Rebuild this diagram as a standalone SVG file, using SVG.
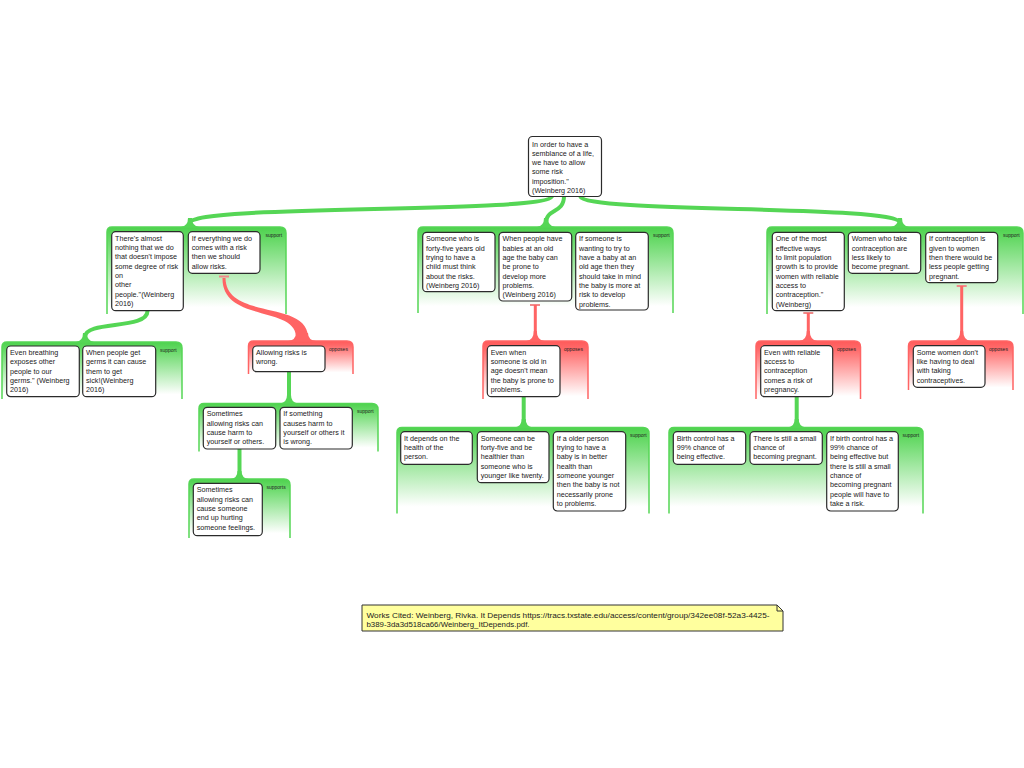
<svg xmlns="http://www.w3.org/2000/svg" width="1024" height="768" viewBox="0 0 1024 768">
<defs>
<linearGradient id="gg" x1="0" y1="0" x2="0" y2="1">
<stop offset="0" stop-color="#4ed24e"/>
<stop offset="0.12" stop-color="#62d862"/>
<stop offset="0.92" stop-color="#ffffff"/>
</linearGradient>
<linearGradient id="rg" x1="0" y1="0" x2="0" y2="1">
<stop offset="0" stop-color="#ff5a5a"/>
<stop offset="0.15" stop-color="#ff6b6b"/>
<stop offset="0.95" stop-color="#ffffff"/>
</linearGradient>
<style>
.box{fill:#fff;stroke:#2b2b2b;stroke-width:1.2}
.t{font-family:"Liberation Sans",Arial,sans-serif;font-size:7.2px;fill:#1a1a1a}
.lbl{font-family:"Liberation Sans",Arial,sans-serif;font-size:5px;fill:#222}
.gs{fill:url(#gg);stroke:#55d655;stroke-width:1.5}
.rs{fill:url(#rg);stroke:#ff6464;stroke-width:1.5}
.gc{fill:none;stroke:#55d655;stroke-width:4}
.rc{fill:none;stroke:#ff6464;stroke-width:3}
.gf{fill:#55d655}
.rf{fill:#ff6464}
.tm{stroke:#f08a8a;stroke-width:2}
.note{fill:#ffff9e;stroke:#333;stroke-width:1}
.nt{font-family:"Liberation Sans",Arial,sans-serif;font-size:7px;fill:#222}
</style>
</defs>

<g id="reason-left">
<path class="gs" d="M107,314 V232 Q107,227 112,227 H280 Q286,227 286,233 V314"/>
<text class="lbl" x="265.5" y="237">support</text>
</g>
<g id="reason-middle">
<path class="gs" d="M418,313 V232 Q418,227 423,227 H667 Q673,227 673,233 V313"/>
<text class="lbl" x="653" y="237">support</text>
</g>
<g id="reason-right">
<path class="gs" d="M767,314 V232 Q767,227 772,227 H1017 Q1023,227 1023,233 V314"/>
<text class="lbl" x="1003" y="237">support</text>
</g>
<g id="reason-breathing">
<path class="gs" d="M2,399 V347 Q2,342 7,342 H176 Q182,342 182,348 V399"/>
<text class="lbl" x="160" y="351.5">support</text>
</g>
<g id="objection-allowing">
<path class="rs" d="M248.5,374 V346 Q248.5,341 253.5,341 H347 Q353,341 353,347 V374"/>
<text class="lbl" x="329" y="351">opposes</text>
</g>
<g id="reason-harm">
<path class="gs" d="M199,451.5 V408.5 Q199,403.5 204,403.5 H372 Q378,403.5 378,409.5 V451.5"/>
<text class="lbl" x="357" y="413">support</text>
</g>
<g id="reason-feelings">
<path class="gs" d="M189,538 V484 Q189,479 194,479 H284 Q290,479 290,485 V538"/>
<text class="lbl" x="266.5" y="489">supports</text>
</g>
<g id="objection-old">
<path class="rs" d="M483,399 V346 Q483,341 488,341 H582 Q588,341 588,347 V399"/>
<text class="lbl" x="564" y="351">opposes</text>
</g>
<g id="reason-health">
<path class="gs" d="M397,513.5 V432.5 Q397,427.5 402,427.5 H643 Q649,427.5 649,433.5 V513.5"/>
<text class="lbl" x="630" y="437">support</text>
</g>
<g id="objection-reliable">
<path class="rs" d="M756,399 V346 Q756,341 761,341 H854.5 Q860.5,341 860.5,347 V399"/>
<text class="lbl" x="837" y="351">opposes</text>
</g>
<g id="objection-women">
<path class="rs" d="M908.5,390 V346 Q908.5,341 913.5,341 H1007 Q1013,341 1013,347 V390"/>
<text class="lbl" x="989" y="351">opposes</text>
</g>
<g id="reason-birthcontrol">
<path class="gs" d="M669,513.5 V432.5 Q669,427.5 674,427.5 H917 Q923,427.5 923,433.5 V513.5"/>
<text class="lbl" x="902.5" y="437">support</text>
</g>

<g id="connectors">
<path class="gc" d="M552,196 C550,214 190,204 190,223"/>
<path class="gf" d="M181,227 Q188,226 188,218 L192,218 Q192,226 199,227 Z"/>
<path class="gc" d="M564,196 C564,214 546,208 546,223"/>
<path class="gf" d="M537,227 Q544,226 544,218 L548,218 Q548,226 555,227 Z"/>
<path class="gc" d="M580,196 C584,214 900,204 900,223"/>
<path class="gf" d="M891,227 Q898,226 898,218 L902,218 Q902,226 909,227 Z"/>
<path class="gc" d="M147.5,311 C147.5,330 85,320 85,337"/>
<path class="gf" d="M76,342 Q83,341 83,333 L87,333 Q87,341 94,342 Z"/>
<line class="tm" x1="219" y1="276.5" x2="229" y2="276.5"/>
<path class="rf" d="M222.5,278 C222,322 294,306 296,336 L308,336 C306,300 226,320 225.5,278 Z"/>
<path class="rf" d="M288,341 Q296,340 296,333 L308,333 Q308,340 316,341 Z"/>
<path class="gc" d="M289,372 V399"/>
<path class="gf" d="M280,403.5 Q287,402.5 287,395 L291,395 Q291,402.5 298,403.5 Z"/>
<path class="gc" d="M239.5,449 V475"/>
<path class="gf" d="M230.5,479 Q237.5,478 237.5,471 L241.5,471 Q241.5,478 248.5,479 Z"/>
<line class="tm" x1="530" y1="305" x2="540" y2="305"/>
<path class="rc" d="M535.3,305 V336"/>
<path class="rf" d="M526.3,341 Q533.8,340 533.8,331 L536.8,331 Q536.8,340 544.3,341 Z"/>
<path class="gc" d="M523.7,397 V423"/>
<path class="gf" d="M514.7,427.5 Q521.7,426.5 521.7,419 L525.7,419 Q525.7,426.5 532.7,427.5 Z"/>
<line class="tm" x1="803.3" y1="313" x2="813.3" y2="313"/>
<path class="rc" d="M808.3,313 V336"/>
<path class="rf" d="M799.3,341 Q806.8,340 806.8,331 L809.8,331 Q809.8,340 817.3,341 Z"/>
<path class="gc" d="M796.7,397 V423"/>
<path class="gf" d="M787.7,427.5 Q794.7,426.5 794.7,419 L798.7,419 Q798.7,426.5 805.7,427.5 Z"/>
<line class="tm" x1="956.7" y1="286" x2="966.7" y2="286"/>
<path class="rc" d="M961.7,286 V336"/>
<path class="rf" d="M952.7,341 Q960.2,340 960.2,331 L963.2,331 Q963.2,340 970.7,341 Z"/>
</g>

<g id="n-top">
<rect class="box" x="528.5" y="136.5" width="73" height="60" rx="4"/>
<text class="t"><tspan x="532" y="146.5">In order to have a</tspan><tspan x="532" dy="9.33">semblance of a life,</tspan><tspan x="532" dy="9.33">we have to allow</tspan><tspan x="532" dy="9.33">some risk</tspan><tspan x="532" dy="9.33">imposition."</tspan><tspan x="532" dy="9.33">(Weinberg 2016)</tspan></text>
</g>
<g id="n-almost">
<rect class="box" x="111.7" y="231.7" width="71.6" height="79" rx="4"/>
<text class="t"><tspan x="115" y="240.7">There's almost</tspan><tspan x="115" dy="9.33">nothing that we do</tspan><tspan x="115" dy="9.33">that doesn't impose</tspan><tspan x="115" dy="9.33">some degree of risk</tspan><tspan x="115" dy="9.33">on</tspan><tspan x="115" dy="9.33">other</tspan><tspan x="115" dy="9.33">people."(Weinberg</tspan><tspan x="115" dy="9.33">2016)</tspan></text>
</g>
<g id="n-everything">
<rect class="box" x="188.3" y="231.7" width="71.7" height="41.6" rx="4"/>
<text class="t"><tspan x="191.7" y="240.7">If everything we do</tspan><tspan x="191.7" dy="9.33">comes with a risk</tspan><tspan x="191.7" dy="9.33">then we should</tspan><tspan x="191.7" dy="9.33">allow risks.</tspan></text>
</g>
<g id="n-fortyfive">
<rect class="box" x="422.7" y="232.3" width="72.3" height="59.4" rx="4"/>
<text class="t"><tspan x="426" y="241.3">Someone who is</tspan><tspan x="426" dy="9.33">forty-five years old</tspan><tspan x="426" dy="9.33">trying to have a</tspan><tspan x="426" dy="9.33">child must think</tspan><tspan x="426" dy="9.33">about the risks.</tspan><tspan x="426" dy="9.33">(Weinberg 2016)</tspan></text>
</g>
<g id="n-oldage">
<rect class="box" x="499" y="232.3" width="72.7" height="68.7" rx="4"/>
<text class="t"><tspan x="502.5" y="241.3">When people have</tspan><tspan x="502.5" dy="9.33">babies at an old</tspan><tspan x="502.5" dy="9.33">age the baby can</tspan><tspan x="502.5" dy="9.33">be prone to</tspan><tspan x="502.5" dy="9.33">develop more</tspan><tspan x="502.5" dy="9.33">problems.</tspan><tspan x="502.5" dy="9.33">(Weinberg 2016)</tspan></text>
</g>
<g id="n-wanting">
<rect class="box" x="575.7" y="232.3" width="72.6" height="77.7" rx="4"/>
<text class="t"><tspan x="579" y="241.3">If someone is</tspan><tspan x="579" dy="9.33">wanting to try to</tspan><tspan x="579" dy="9.33">have a baby at an</tspan><tspan x="579" dy="9.33">old age then they</tspan><tspan x="579" dy="9.33">should take in mind</tspan><tspan x="579" dy="9.33">the baby is more at</tspan><tspan x="579" dy="9.33">risk to develop</tspan><tspan x="579" dy="9.33">problems.</tspan></text>
</g>
<g id="n-effective">
<rect class="box" x="772.3" y="232.3" width="72" height="78.4" rx="4"/>
<text class="t"><tspan x="775.7" y="241.3">One of the most</tspan><tspan x="775.7" dy="9.33">effective ways</tspan><tspan x="775.7" dy="9.33">to limit population</tspan><tspan x="775.7" dy="9.33">growth is to provide</tspan><tspan x="775.7" dy="9.33">women with reliable</tspan><tspan x="775.7" dy="9.33">access to</tspan><tspan x="775.7" dy="9.33">contraception."</tspan><tspan x="775.7" dy="9.33">(Weinberg)</tspan></text>
</g>
<g id="n-lesslikely">
<rect class="box" x="848.3" y="232.3" width="72.4" height="41" rx="4"/>
<text class="t"><tspan x="851.7" y="241.3">Women who take</tspan><tspan x="851.7" dy="9.33">contraception are</tspan><tspan x="851.7" dy="9.33">less likely to</tspan><tspan x="851.7" dy="9.33">become pregnant.</tspan></text>
</g>
<g id="n-given">
<rect class="box" x="925.7" y="232.3" width="72" height="50.4" rx="4"/>
<text class="t"><tspan x="929" y="241.3">If contraception is</tspan><tspan x="929" dy="9.33">given to women</tspan><tspan x="929" dy="9.33">then there would be</tspan><tspan x="929" dy="9.33">less people getting</tspan><tspan x="929" dy="9.33">pregnant.</tspan></text>
</g>
<g id="n-breathing">
<rect class="box" x="6.7" y="346" width="72.6" height="50.7" rx="4"/>
<text class="t"><tspan x="10" y="355">Even breathing</tspan><tspan x="10" dy="9.33">exposes other</tspan><tspan x="10" dy="9.33">people to our</tspan><tspan x="10" dy="9.33">germs." (Weinberg</tspan><tspan x="10" dy="9.33">2016)</tspan></text>
</g>
<g id="n-germs">
<rect class="box" x="82.7" y="346" width="73" height="50.7" rx="4"/>
<text class="t"><tspan x="86" y="355">When people get</tspan><tspan x="86" dy="9.33">germs it can cause</tspan><tspan x="86" dy="9.33">them to get</tspan><tspan x="86" dy="9.33">sick!(Weinberg</tspan><tspan x="86" dy="9.33">2016)</tspan></text>
</g>
<g id="n-allowing">
<rect class="box" x="252.7" y="346" width="72.3" height="25.7" rx="4"/>
<text class="t"><tspan x="256" y="355">Allowing risks is</tspan><tspan x="256" dy="9.33">wrong.</tspan></text>
</g>
<g id="n-harm">
<rect class="box" x="203.3" y="407.3" width="72.4" height="41.7" rx="4"/>
<text class="t"><tspan x="206.7" y="416.3">Sometimes</tspan><tspan x="206.7" dy="9.33">allowing risks can</tspan><tspan x="206.7" dy="9.33">cause harm to</tspan><tspan x="206.7" dy="9.33">yourself or others.</tspan></text>
</g>
<g id="n-something">
<rect class="box" x="280" y="407.3" width="72.3" height="41.7" rx="4"/>
<text class="t"><tspan x="283.3" y="416.3">If something</tspan><tspan x="283.3" dy="9.33">causes harm to</tspan><tspan x="283.3" dy="9.33">yourself or others it</tspan><tspan x="283.3" dy="9.33">is wrong.</tspan></text>
</g>
<g id="n-feelings">
<rect class="box" x="193.3" y="483.3" width="69" height="52.4" rx="4"/>
<text class="t"><tspan x="196.7" y="492.3">Sometimes</tspan><tspan x="196.7" dy="9.33">allowing risks can</tspan><tspan x="196.7" dy="9.33">cause someone</tspan><tspan x="196.7" dy="9.33">end up hurting</tspan><tspan x="196.7" dy="9.33">someone feelings.</tspan></text>
</g>
<g id="n-evenwhen">
<rect class="box" x="487.3" y="345.7" width="72.7" height="51" rx="4"/>
<text class="t"><tspan x="490.7" y="354.7">Even when</tspan><tspan x="490.7" dy="9.33">someone is old in</tspan><tspan x="490.7" dy="9.33">age doesn't mean</tspan><tspan x="490.7" dy="9.33">the baby is prone to</tspan><tspan x="490.7" dy="9.33">problems.</tspan></text>
</g>
<g id="n-depends">
<rect class="box" x="400.7" y="431.7" width="71.6" height="32.6" rx="4"/>
<text class="t"><tspan x="404" y="440.7">It depends on the</tspan><tspan x="404" dy="9.33">health of the</tspan><tspan x="404" dy="9.33">person.</tspan></text>
</g>
<g id="n-healthier">
<rect class="box" x="477.3" y="431.7" width="71.7" height="51" rx="4"/>
<text class="t"><tspan x="480.7" y="440.7">Someone can be</tspan><tspan x="480.7" dy="9.33">forty-five and be</tspan><tspan x="480.7" dy="9.33">healthier than</tspan><tspan x="480.7" dy="9.33">someone who is</tspan><tspan x="480.7" dy="9.33">younger like twenty.</tspan></text>
</g>
<g id="n-older">
<rect class="box" x="553.3" y="431.7" width="72.4" height="79.3" rx="4"/>
<text class="t"><tspan x="556.7" y="440.7">If a older person</tspan><tspan x="556.7" dy="9.33">trying to have a</tspan><tspan x="556.7" dy="9.33">baby is in better</tspan><tspan x="556.7" dy="9.33">health than</tspan><tspan x="556.7" dy="9.33">someone younger</tspan><tspan x="556.7" dy="9.33">then the baby is not</tspan><tspan x="556.7" dy="9.33">necessarily prone</tspan><tspan x="556.7" dy="9.33">to problems.</tspan></text>
</g>
<g id="n-reliable">
<rect class="box" x="760.7" y="345.7" width="72" height="51" rx="4"/>
<text class="t"><tspan x="764" y="354.7">Even with reliable</tspan><tspan x="764" dy="9.33">access to</tspan><tspan x="764" dy="9.33">contraception</tspan><tspan x="764" dy="9.33">comes a risk of</tspan><tspan x="764" dy="9.33">pregnancy.</tspan></text>
</g>
<g id="n-dont">
<rect class="box" x="913.3" y="345.7" width="71.7" height="41.6" rx="4"/>
<text class="t"><tspan x="916.7" y="354.7">Some women don't</tspan><tspan x="916.7" dy="9.33">like having to deal</tspan><tspan x="916.7" dy="9.33">with taking</tspan><tspan x="916.7" dy="9.33">contraceptives.</tspan></text>
</g>
<g id="n-99">
<rect class="box" x="673.3" y="431.7" width="72.4" height="32.6" rx="4"/>
<text class="t"><tspan x="676.7" y="440.7">Birth control has a</tspan><tspan x="676.7" dy="9.33">99% chance of</tspan><tspan x="676.7" dy="9.33">being effective.</tspan></text>
</g>
<g id="n-small">
<rect class="box" x="750" y="431.7" width="72.3" height="32.6" rx="4"/>
<text class="t"><tspan x="753.3" y="440.7">There is still a small</tspan><tspan x="753.3" dy="9.33">chance of</tspan><tspan x="753.3" dy="9.33">becoming pregnant.</tspan></text>
</g>
<g id="n-takerisk">
<rect class="box" x="826.7" y="431.7" width="71.6" height="79.3" rx="4"/>
<text class="t"><tspan x="830" y="440.7">If birth control has a</tspan><tspan x="830" dy="9.33">99% chance of</tspan><tspan x="830" dy="9.33">being effective but</tspan><tspan x="830" dy="9.33">there is still a small</tspan><tspan x="830" dy="9.33">chance of</tspan><tspan x="830" dy="9.33">becoming pregnant</tspan><tspan x="830" dy="9.33">people will have to</tspan><tspan x="830" dy="9.33">take a risk.</tspan></text>
</g>

<g id="n-works-cited">
<path class="note" d="M362,605 H777 L783,611 V631 H362 Z"/>
<path fill="none" stroke="#333" stroke-width="1" d="M777,605 V611 H783"/>
<text class="nt" x="366.5" y="617.5" textLength="403" lengthAdjust="spacingAndGlyphs">Works Cited: Weinberg, Rivka. It Depends https://tracs.txstate.edu/access/content/group/342ee08f-52a3-4425-</text>
<text class="nt" x="366.5" y="626.5" textLength="163" lengthAdjust="spacingAndGlyphs">b389-3da3d518ca66/Weinberg_ItDepends.pdf.</text>
</g>
</svg>
